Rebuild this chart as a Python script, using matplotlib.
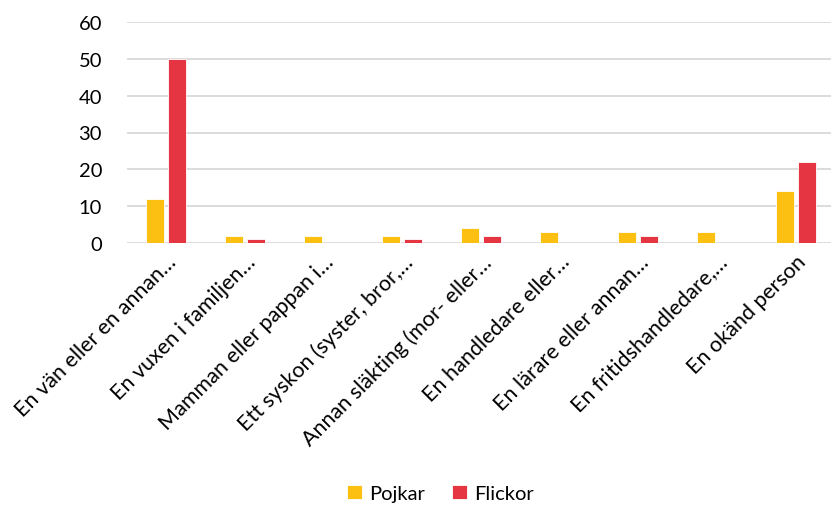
import numpy as np
import matplotlib.pyplot as plt

plt.rcParams['font.family'] = ['Lato', 'DejaVu Sans']

categories = [
    "En vän eller en annan…",
    "En vuxen i familjen…",
    "Mamman eller pappan i…",
    "Ett syskon (syster, bror,…",
    "Annan släkting (mor- eller…",
    "En handledare eller…",
    "En lärare eller annan…",
    "En fritidshandledare,…",
    "En okänd person",
]
pojkar = [12, 2, 2, 2, 4, 3, 3, 3, 14]
flickor = [50, 1, 0, 1, 2, 0, 2, 0, 22]

x = np.arange(len(categories))
w = 0.23

fig = plt.figure(figsize=(8.31, 5.06), dpi=100)
ax = fig.add_axes([127 / 831, 262 / 506, 704 / 831, 221 / 506])

ax.bar(x - 0.14, pojkar, w, color='#FBC012', edgecolor='white', linewidth=0.6, label='Pojkar', zorder=3)
ax.bar(x + 0.14, flickor, w, color='#E63542', edgecolor='white', linewidth=0.6, label='Flickor', zorder=3)

ax.set_ylim(0, 60)
ax.set_xlim(-0.5, 8.45)
ax.set_yticks(range(0, 61, 10))
ax.grid(axis='y', color='#D9D9D9', linewidth=1.3, zorder=0)
for s in ax.spines.values():
    s.set_visible(False)
ax.tick_params(length=0)
ax.tick_params(axis='y', labelsize=14.5, pad=18)

ax.set_xticks(x)
ax.set_xticklabels(categories, rotation=45, ha='right', va='top',
                   rotation_mode='anchor', fontsize=15.5)
ax.tick_params(axis='x', pad=6)

fig.legend(loc='lower center', bbox_to_anchor=(0.53, -0.03), ncol=2, frameon=False,
           fontsize=14.5, handlelength=0.75, handleheight=0.75, handletextpad=0.35,
           columnspacing=1.3)

fig.savefig('out.png', dpi=100)
